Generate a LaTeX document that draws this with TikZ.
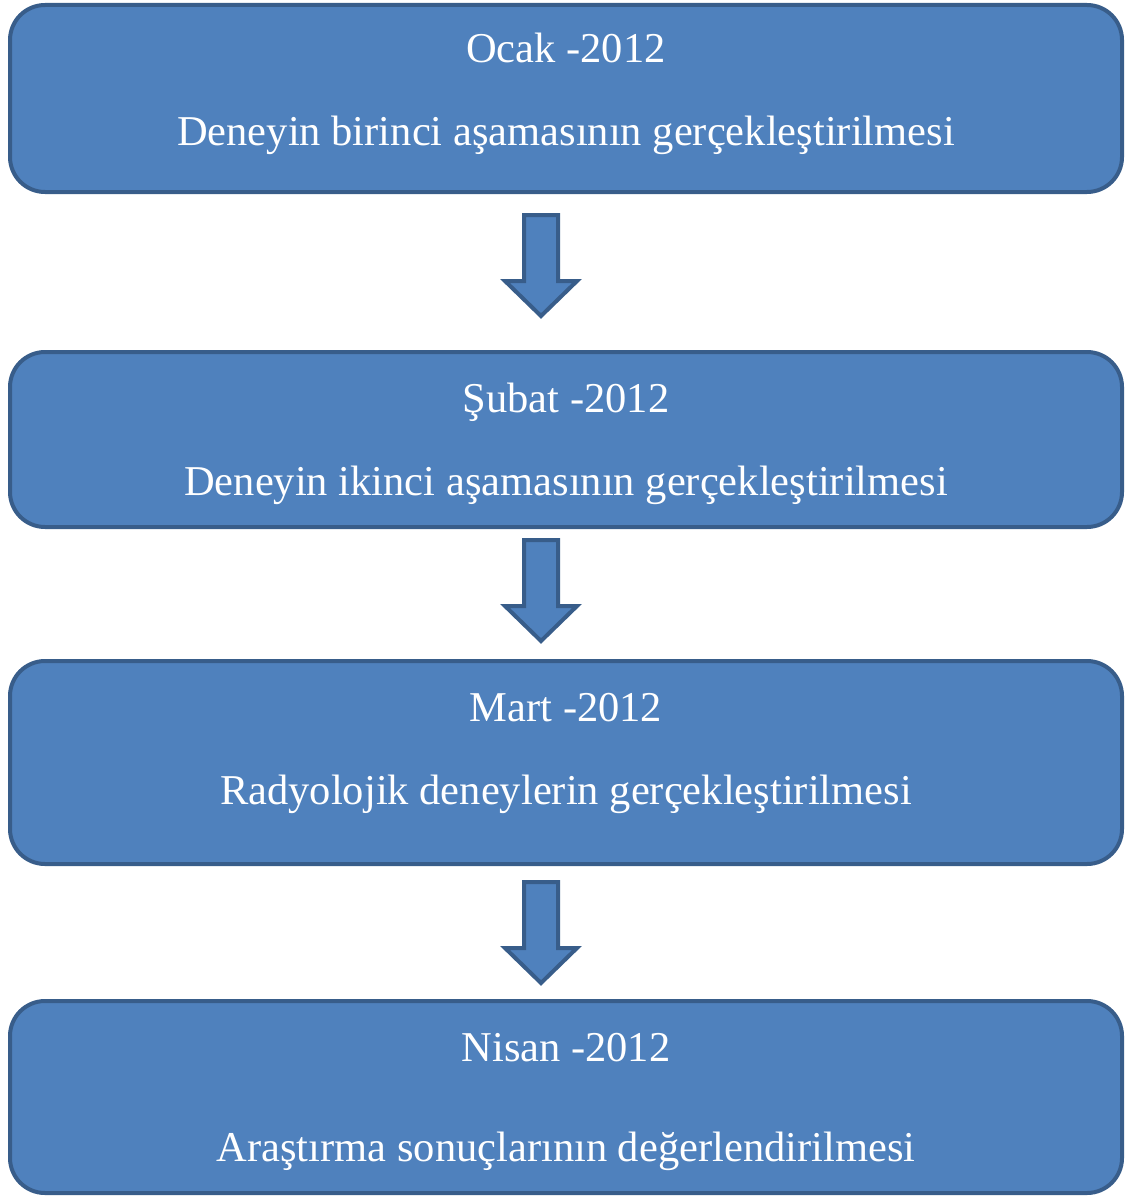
\documentclass[tikz,border=0pt]{standalone}
\usepackage{fontspec}
\setmainfont{Liberation Serif}
\usetikzlibrary{calc}
\definecolor{boxfill}{HTML}{4F81BD}
\definecolor{boxline}{HTML}{385D8A}
\begin{document}
\begin{tikzpicture}[x=1pt,y=-1pt,
  stage/.style={draw=boxline, line width=4pt, fill=boxfill, rounded corners=35pt, minimum width=1112pt, inner sep=0pt, outer sep=0pt},
  lbl/.style={text=white, anchor=base, inner sep=0pt, font=\fontsize{42.5}{50}\selectfont},
  blockarrow/.style={draw=boxline, line width=4pt, fill=boxfill, line join=miter}]
\useasboundingbox (0,0) rectangle (1129,1196);
% boxes
\node[stage, minimum height=187pt] (b1) at (566,98.5) {};
\node[stage, minimum height=175pt] (b2) at (566,439.5) {};
\node[stage, minimum height=203pt] (b3) at (566,762.5) {};
\node[stage, minimum height=192pt] (b4) at (566,1097) {};
% texts
\node[lbl] (t1a) at (566,63) {Ocak -2012};
\node[lbl] (t1b) at (566,146) {Deneyin birinci aşamasının gerçekleştirilmesi};
\node[lbl] (t2a) at (566,412) {Şubat -2012};
\node[lbl] (t2b) at (566,495) {Deneyin ikinci aşamasının gerçekleştirilmesi};
\node[lbl] (t3a) at (566,721) {Mart -2012};
\node[lbl] (t3b) at (566,804) {Radyolojik deneylerin gerçekleştirilmesi};
\node[lbl] (t4a) at (566,1061) {Nisan -2012};
\node[lbl] (t4b) at (566,1161) {Araştırma sonuçlarının değerlendirilmesi};
% arrows
\coordinate (a1) at ($(b1.south)+(-25,23)$);
\coordinate (a2) at ($(b2.south)+(-25,13)$);
\coordinate (a3) at ($(b3.south)+(-25,18)$);
\foreach \nm in {a1,a2,a3}{
  \draw[blockarrow] ($(\nm)+(-17,0)$) -- ($(\nm)+(17,0)$) -- ($(\nm)+(17,66)$) -- ($(\nm)+(36,66)$)
     -- ($(\nm)+(0,101)$) -- ($(\nm)+(-36,66)$) -- ($(\nm)+(-17,66)$) -- cycle;
}
\end{tikzpicture}
\end{document}
